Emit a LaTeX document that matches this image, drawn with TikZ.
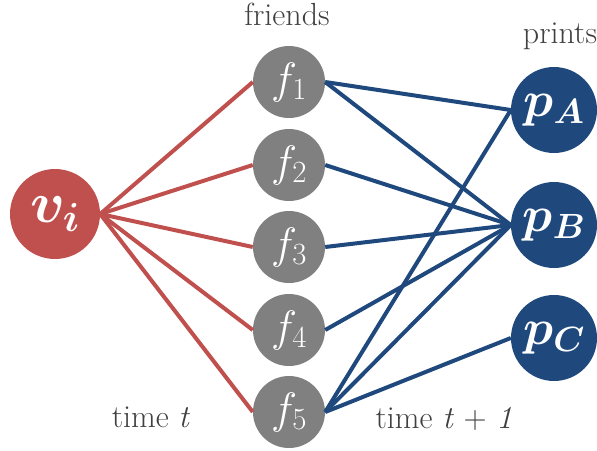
\RequirePackage{fix-cm}
\documentclass[tikz,border=0pt]{standalone}
\usepackage{amsmath}
\definecolor{redfill}{HTML}{C0504D}
\definecolor{bluefill}{HTML}{1F497D}
\definecolor{greyfill}{HTML}{808080}
\definecolor{labeltext}{HTML}{404040}
\begin{document}
\begin{tikzpicture}[x=1pt,y=-1pt,
  person/.style={circle,fill=redfill,minimum size=90pt,inner sep=0pt,text=white},
  friend/.style={circle,fill=greyfill,minimum size=72pt,inner sep=0pt,text=white},
  printnode/.style={circle,fill=bluefill,minimum size=86pt,inner sep=0pt,text=white},
  redlink/.style={draw=redfill,line width=4pt},
  bluelink/.style={draw=bluefill,line width=4pt},
  caption/.style={text=labeltext,anchor=base,inner sep=0pt,font=\fontsize{32}{35}\selectfont}]
\useasboundingbox (0,0) rectangle (597,450);

% nodes
\node[person] (v) at (55,214) {\fontsize{58}{62}\selectfont$\boldsymbol{v_i}$};
\node[friend] (f1) at (289,82)  {\fontsize{44}{48}\selectfont$f_{1}$};
\node[friend] (f2) at (289,165) {\fontsize{44}{48}\selectfont$f_{2}$};
\node[friend] (f3) at (289,247) {\fontsize{44}{48}\selectfont$f_{3}$};
\node[friend] (f4) at (289,330) {\fontsize{44}{48}\selectfont$f_{4}$};
\node[friend] (f5) at (289,412) {\fontsize{44}{48}\selectfont$f_{5}$};
\node[printnode] (pA) at (554,110) {\fontsize{50}{54}\selectfont$\boldsymbol{p_A}$};
\node[printnode] (pB) at (554,225) {\fontsize{50}{54}\selectfont$\boldsymbol{p_B}$};
\node[printnode] (pC) at (554,338) {\fontsize{50}{54}\selectfont$\boldsymbol{p_C}$};

% captions
\node[caption] (friendslbl) at (287,25) {friends};
\node[caption] (printslbl) at (560,43) {prints};
\node[caption] (timet) at (151,427) {time \textit{t}};
\node[caption] (timet1) at (444,428) {time \textit{t} + \textit{1}};

% links between layers
\foreach \f in {f1,f2,f3,f4,f5}
  \draw[redlink] (v.east) -- (\f.west);
\draw[bluelink] (f1.east) -- (pA.west);
\draw[bluelink] (f1.east) -- (pB.west);
\draw[bluelink] (f2.east) -- (pB.west);
\draw[bluelink] (f3.east) -- (pB.west);
\draw[bluelink] (f4.east) -- (pB.west);
\draw[bluelink] (f5.east) -- (pA.west);
\draw[bluelink] (f5.east) -- (pB.west);
\draw[bluelink] (f5.east) -- (pC.west);
\end{tikzpicture}
\end{document}
